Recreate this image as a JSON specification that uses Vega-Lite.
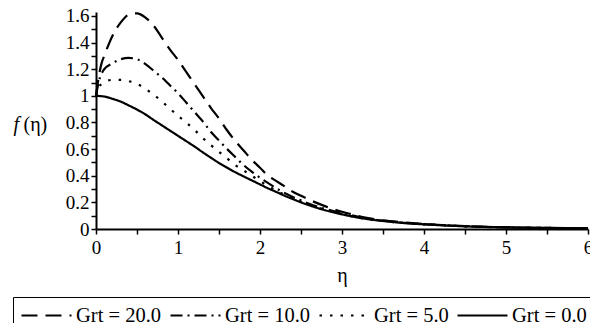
{
  "$schema": "https://vega.github.io/schema/vega-lite/v6.json",
  "autosize": {"type": "none"},
  "width": 492,
  "height": 217,
  "padding": {"left": 96, "top": 12, "right": 2, "bottom": 94},
  "background": "white",
  "config": {
    "view": {"stroke": null},
    "font": "Liberation Serif",
    "axis": {"domainColor": "black", "domainWidth": 2, "tickColor": "black", "tickWidth": 1.5, "labelColor": "black", "titleColor": "black", "labelFont": "Liberation Serif", "titleFont": "Liberation Serif", "labelFontSize": 19, "titleFontSize": 20, "titleFontWeight": "normal", "grid": false, "labelFlush": false, "labelOverlap": false, "labelBound": false},
    "legend": {"labelFont": "Liberation Serif"}
  },
  "datasets": {
    "curves": [
      {"eta": 0, "f": 1.0, "Grt": "Grt = 20.0"},
      {"eta": 0.03, "f": 1.13, "Grt": "Grt = 20.0"},
      {"eta": 0.07, "f": 1.25, "Grt": "Grt = 20.0"},
      {"eta": 0.1, "f": 1.3, "Grt": "Grt = 20.0"},
      {"eta": 0.2, "f": 1.45, "Grt": "Grt = 20.0"},
      {"eta": 0.3, "f": 1.55, "Grt": "Grt = 20.0"},
      {"eta": 0.4, "f": 1.61, "Grt": "Grt = 20.0"},
      {"eta": 0.5, "f": 1.62, "Grt": "Grt = 20.0"},
      {"eta": 0.6, "f": 1.59, "Grt": "Grt = 20.0"},
      {"eta": 0.7, "f": 1.53, "Grt": "Grt = 20.0"},
      {"eta": 0.8, "f": 1.44, "Grt": "Grt = 20.0"},
      {"eta": 0.9, "f": 1.35, "Grt": "Grt = 20.0"},
      {"eta": 1.0, "f": 1.27, "Grt": "Grt = 20.0"},
      {"eta": 1.1, "f": 1.18, "Grt": "Grt = 20.0"},
      {"eta": 1.2, "f": 1.09, "Grt": "Grt = 20.0"},
      {"eta": 1.3, "f": 1.0, "Grt": "Grt = 20.0"},
      {"eta": 1.4, "f": 0.91, "Grt": "Grt = 20.0"},
      {"eta": 1.5, "f": 0.83, "Grt": "Grt = 20.0"},
      {"eta": 1.6, "f": 0.74, "Grt": "Grt = 20.0"},
      {"eta": 1.7, "f": 0.66, "Grt": "Grt = 20.0"},
      {"eta": 1.8, "f": 0.59, "Grt": "Grt = 20.0"},
      {"eta": 1.9, "f": 0.52, "Grt": "Grt = 20.0"},
      {"eta": 2.0, "f": 0.46, "Grt": "Grt = 20.0"},
      {"eta": 2.1, "f": 0.4, "Grt": "Grt = 20.0"},
      {"eta": 2.2, "f": 0.36, "Grt": "Grt = 20.0"},
      {"eta": 2.3, "f": 0.32, "Grt": "Grt = 20.0"},
      {"eta": 2.4, "f": 0.28, "Grt": "Grt = 20.0"},
      {"eta": 2.5, "f": 0.25, "Grt": "Grt = 20.0"},
      {"eta": 2.6, "f": 0.22, "Grt": "Grt = 20.0"},
      {"eta": 2.8, "f": 0.17, "Grt": "Grt = 20.0"},
      {"eta": 3.0, "f": 0.13, "Grt": "Grt = 20.0"},
      {"eta": 3.25, "f": 0.09, "Grt": "Grt = 20.0"},
      {"eta": 3.5, "f": 0.065, "Grt": "Grt = 20.0"},
      {"eta": 3.75, "f": 0.05, "Grt": "Grt = 20.0"},
      {"eta": 4.0, "f": 0.038, "Grt": "Grt = 20.0"},
      {"eta": 4.5, "f": 0.022, "Grt": "Grt = 20.0"},
      {"eta": 5.0, "f": 0.013, "Grt": "Grt = 20.0"},
      {"eta": 5.5, "f": 0.008, "Grt": "Grt = 20.0"},
      {"eta": 6.0, "f": 0.005, "Grt": "Grt = 20.0"},

      {"eta": 0, "f": 1.0, "Grt": "Grt = 10.0"},
      {"eta": 0.03, "f": 1.1, "Grt": "Grt = 10.0"},
      {"eta": 0.07, "f": 1.17, "Grt": "Grt = 10.0"},
      {"eta": 0.1, "f": 1.2, "Grt": "Grt = 10.0"},
      {"eta": 0.2, "f": 1.245, "Grt": "Grt = 10.0"},
      {"eta": 0.3, "f": 1.275, "Grt": "Grt = 10.0"},
      {"eta": 0.4, "f": 1.285, "Grt": "Grt = 10.0"},
      {"eta": 0.5, "f": 1.275, "Grt": "Grt = 10.0"},
      {"eta": 0.6, "f": 1.24, "Grt": "Grt = 10.0"},
      {"eta": 0.7, "f": 1.19, "Grt": "Grt = 10.0"},
      {"eta": 0.8, "f": 1.14, "Grt": "Grt = 10.0"},
      {"eta": 0.9, "f": 1.08, "Grt": "Grt = 10.0"},
      {"eta": 1.0, "f": 1.02, "Grt": "Grt = 10.0"},
      {"eta": 1.1, "f": 0.95, "Grt": "Grt = 10.0"},
      {"eta": 1.2, "f": 0.88, "Grt": "Grt = 10.0"},
      {"eta": 1.3, "f": 0.81, "Grt": "Grt = 10.0"},
      {"eta": 1.4, "f": 0.73, "Grt": "Grt = 10.0"},
      {"eta": 1.5, "f": 0.665, "Grt": "Grt = 10.0"},
      {"eta": 1.6, "f": 0.6, "Grt": "Grt = 10.0"},
      {"eta": 1.7, "f": 0.54, "Grt": "Grt = 10.0"},
      {"eta": 1.8, "f": 0.48, "Grt": "Grt = 10.0"},
      {"eta": 1.9, "f": 0.43, "Grt": "Grt = 10.0"},
      {"eta": 2.0, "f": 0.385, "Grt": "Grt = 10.0"},
      {"eta": 2.1, "f": 0.345, "Grt": "Grt = 10.0"},
      {"eta": 2.2, "f": 0.305, "Grt": "Grt = 10.0"},
      {"eta": 2.3, "f": 0.27, "Grt": "Grt = 10.0"},
      {"eta": 2.4, "f": 0.24, "Grt": "Grt = 10.0"},
      {"eta": 2.5, "f": 0.215, "Grt": "Grt = 10.0"},
      {"eta": 2.6, "f": 0.19, "Grt": "Grt = 10.0"},
      {"eta": 2.8, "f": 0.15, "Grt": "Grt = 10.0"},
      {"eta": 3.0, "f": 0.12, "Grt": "Grt = 10.0"},
      {"eta": 3.25, "f": 0.085, "Grt": "Grt = 10.0"},
      {"eta": 3.5, "f": 0.062, "Grt": "Grt = 10.0"},
      {"eta": 3.75, "f": 0.047, "Grt": "Grt = 10.0"},
      {"eta": 4.0, "f": 0.036, "Grt": "Grt = 10.0"},
      {"eta": 4.5, "f": 0.021, "Grt": "Grt = 10.0"},
      {"eta": 5.0, "f": 0.012, "Grt": "Grt = 10.0"},
      {"eta": 5.5, "f": 0.008, "Grt": "Grt = 10.0"},
      {"eta": 6.0, "f": 0.005, "Grt": "Grt = 10.0"},

      {"eta": 0, "f": 1.0, "Grt": "Grt = 5.0"},
      {"eta": 0.03, "f": 1.06, "Grt": "Grt = 5.0"},
      {"eta": 0.07, "f": 1.09, "Grt": "Grt = 5.0"},
      {"eta": 0.1, "f": 1.105, "Grt": "Grt = 5.0"},
      {"eta": 0.2, "f": 1.12, "Grt": "Grt = 5.0"},
      {"eta": 0.3, "f": 1.12, "Grt": "Grt = 5.0"},
      {"eta": 0.4, "f": 1.11, "Grt": "Grt = 5.0"},
      {"eta": 0.5, "f": 1.09, "Grt": "Grt = 5.0"},
      {"eta": 0.6, "f": 1.055, "Grt": "Grt = 5.0"},
      {"eta": 0.7, "f": 1.01, "Grt": "Grt = 5.0"},
      {"eta": 0.8, "f": 0.96, "Grt": "Grt = 5.0"},
      {"eta": 0.9, "f": 0.905, "Grt": "Grt = 5.0"},
      {"eta": 1.0, "f": 0.85, "Grt": "Grt = 5.0"},
      {"eta": 1.1, "f": 0.8, "Grt": "Grt = 5.0"},
      {"eta": 1.2, "f": 0.745, "Grt": "Grt = 5.0"},
      {"eta": 1.3, "f": 0.685, "Grt": "Grt = 5.0"},
      {"eta": 1.4, "f": 0.63, "Grt": "Grt = 5.0"},
      {"eta": 1.5, "f": 0.58, "Grt": "Grt = 5.0"},
      {"eta": 1.6, "f": 0.53, "Grt": "Grt = 5.0"},
      {"eta": 1.7, "f": 0.48, "Grt": "Grt = 5.0"},
      {"eta": 1.8, "f": 0.44, "Grt": "Grt = 5.0"},
      {"eta": 1.9, "f": 0.4, "Grt": "Grt = 5.0"},
      {"eta": 2.0, "f": 0.36, "Grt": "Grt = 5.0"},
      {"eta": 2.1, "f": 0.322, "Grt": "Grt = 5.0"},
      {"eta": 2.2, "f": 0.288, "Grt": "Grt = 5.0"},
      {"eta": 2.3, "f": 0.257, "Grt": "Grt = 5.0"},
      {"eta": 2.4, "f": 0.228, "Grt": "Grt = 5.0"},
      {"eta": 2.5, "f": 0.205, "Grt": "Grt = 5.0"},
      {"eta": 2.6, "f": 0.183, "Grt": "Grt = 5.0"},
      {"eta": 2.8, "f": 0.143, "Grt": "Grt = 5.0"},
      {"eta": 3.0, "f": 0.112, "Grt": "Grt = 5.0"},
      {"eta": 3.25, "f": 0.08, "Grt": "Grt = 5.0"},
      {"eta": 3.5, "f": 0.06, "Grt": "Grt = 5.0"},
      {"eta": 3.75, "f": 0.045, "Grt": "Grt = 5.0"},
      {"eta": 4.0, "f": 0.035, "Grt": "Grt = 5.0"},
      {"eta": 4.5, "f": 0.02, "Grt": "Grt = 5.0"},
      {"eta": 5.0, "f": 0.012, "Grt": "Grt = 5.0"},
      {"eta": 5.5, "f": 0.008, "Grt": "Grt = 5.0"},
      {"eta": 6.0, "f": 0.005, "Grt": "Grt = 5.0"},

      {"eta": 0, "f": 1.0, "Grt": "Grt = 0.0"},
      {"eta": 0.1, "f": 0.995, "Grt": "Grt = 0.0"},
      {"eta": 0.2, "f": 0.978, "Grt": "Grt = 0.0"},
      {"eta": 0.3, "f": 0.957, "Grt": "Grt = 0.0"},
      {"eta": 0.4, "f": 0.928, "Grt": "Grt = 0.0"},
      {"eta": 0.5, "f": 0.897, "Grt": "Grt = 0.0"},
      {"eta": 0.6, "f": 0.862, "Grt": "Grt = 0.0"},
      {"eta": 0.7, "f": 0.82, "Grt": "Grt = 0.0"},
      {"eta": 0.8, "f": 0.78, "Grt": "Grt = 0.0"},
      {"eta": 0.9, "f": 0.74, "Grt": "Grt = 0.0"},
      {"eta": 1.0, "f": 0.7, "Grt": "Grt = 0.0"},
      {"eta": 1.1, "f": 0.66, "Grt": "Grt = 0.0"},
      {"eta": 1.2, "f": 0.62, "Grt": "Grt = 0.0"},
      {"eta": 1.3, "f": 0.577, "Grt": "Grt = 0.0"},
      {"eta": 1.4, "f": 0.536, "Grt": "Grt = 0.0"},
      {"eta": 1.5, "f": 0.496, "Grt": "Grt = 0.0"},
      {"eta": 1.6, "f": 0.46, "Grt": "Grt = 0.0"},
      {"eta": 1.7, "f": 0.426, "Grt": "Grt = 0.0"},
      {"eta": 1.8, "f": 0.395, "Grt": "Grt = 0.0"},
      {"eta": 1.9, "f": 0.365, "Grt": "Grt = 0.0"},
      {"eta": 2.0, "f": 0.335, "Grt": "Grt = 0.0"},
      {"eta": 2.1, "f": 0.305, "Grt": "Grt = 0.0"},
      {"eta": 2.2, "f": 0.278, "Grt": "Grt = 0.0"},
      {"eta": 2.3, "f": 0.25, "Grt": "Grt = 0.0"},
      {"eta": 2.4, "f": 0.225, "Grt": "Grt = 0.0"},
      {"eta": 2.5, "f": 0.2, "Grt": "Grt = 0.0"},
      {"eta": 2.6, "f": 0.178, "Grt": "Grt = 0.0"},
      {"eta": 2.8, "f": 0.14, "Grt": "Grt = 0.0"},
      {"eta": 3.0, "f": 0.11, "Grt": "Grt = 0.0"},
      {"eta": 3.25, "f": 0.08, "Grt": "Grt = 0.0"},
      {"eta": 3.5, "f": 0.06, "Grt": "Grt = 0.0"},
      {"eta": 3.75, "f": 0.045, "Grt": "Grt = 0.0"},
      {"eta": 4.0, "f": 0.035, "Grt": "Grt = 0.0"},
      {"eta": 4.5, "f": 0.02, "Grt": "Grt = 0.0"},
      {"eta": 5.0, "f": 0.012, "Grt": "Grt = 0.0"},
      {"eta": 5.5, "f": 0.008, "Grt": "Grt = 0.0"},
      {"eta": 6.0, "f": 0.005, "Grt": "Grt = 0.0"}
    ]
  },
  "data": {"name": "curves"},
  "resolve": {"scale": {"y": "independent"}, "axis": {"y": "independent"}},
  "layer": [
    {
      "mark": {"type": "line", "color": "black", "strokeWidth": 2.2, "interpolate": "monotone"},
      "encoding": {
        "x": {"field": "eta", "type": "quantitative",
              "scale": {"domain": [0, 6], "nice": false},
              "axis": {"values": [0, 0.5, 1, 1.5, 2, 2.5, 3, 3.5, 4, 4.5, 5, 5.5, 6], "format": "~f",
                       "labelExpr": "datum.value % 1 == 0 ? datum.label : ''",
                       "tickSize": 5, "labelPadding": 4,
                       "title": "η", "titleBaseline": "alphabetic", "titleY": 52, "titleFontSize": 20}},
        "y": {"field": "f", "type": "quantitative",
              "scale": {"domain": [0, 1.63], "nice": false, "zero": true},
              "axis": {"values": [0, 0.1, 0.2, 0.3, 0.4, 0.5, 0.6, 0.7, 0.8, 0.9, 1.0, 1.1, 1.2, 1.3, 1.4, 1.5, 1.6],
                       "labelExpr": "round(datum.value * 10) % 2 == 0 ? format(datum.value, '~f') : ''",
                       "tickSize": 5, "labelPadding": 2,
                       "title": "f", "titleFontStyle": "italic", "titleAngle": 0, "titleAlign": "left",
                       "titleBaseline": "alphabetic", "titleX": -83, "titleY": 118, "titleFontSize": 20}},
        "strokeDash": {"field": "Grt", "type": "nominal",
                       "scale": {"domain": ["Grt = 20.0", "Grt = 10.0", "Grt = 5.0", "Grt = 0.0"],
                                 "range": [[16, 8], [12, 5, 2, 5], [2.5, 8], [1, 0]]},
                       "legend": {"title": null, "orient": "none", "legendX": -83, "legendY": 285,
                                  "direction": "horizontal", "columns": 4,
                                  "strokeColor": "black", "padding": 7,
                                  "symbolType": "M-2.5,0H2.5", "symbolSize": 400, "symbolStrokeWidth": 2.2,
                                  "symbolStrokeColor": "black", "symbolOffset": 15,
                                  "labelFontSize": 20.5, "labelColor": "black",
                                  "labelOffset": 18, "columnPadding": 4}},
        "detail": {"field": "Grt"}
      }
    },
    {
      "mark": {"type": "line", "opacity": 0},
      "encoding": {
        "x": {"field": "eta", "type": "quantitative", "scale": {"domain": [0, 6], "nice": false}},
        "y": {"field": "f", "type": "quantitative",
              "scale": {"domain": [0, 1.63], "nice": false},
              "axis": {"orient": "left", "domain": false, "ticks": false, "labels": false,
                       "title": "(η)",
                       "titleAngle": 0, "titleAlign": "left", "titleBaseline": "alphabetic",
                       "titleX": -73, "titleY": 118, "titleFontSize": 20}},
        "detail": {"field": "Grt"}
      }
    }
  ]
}
